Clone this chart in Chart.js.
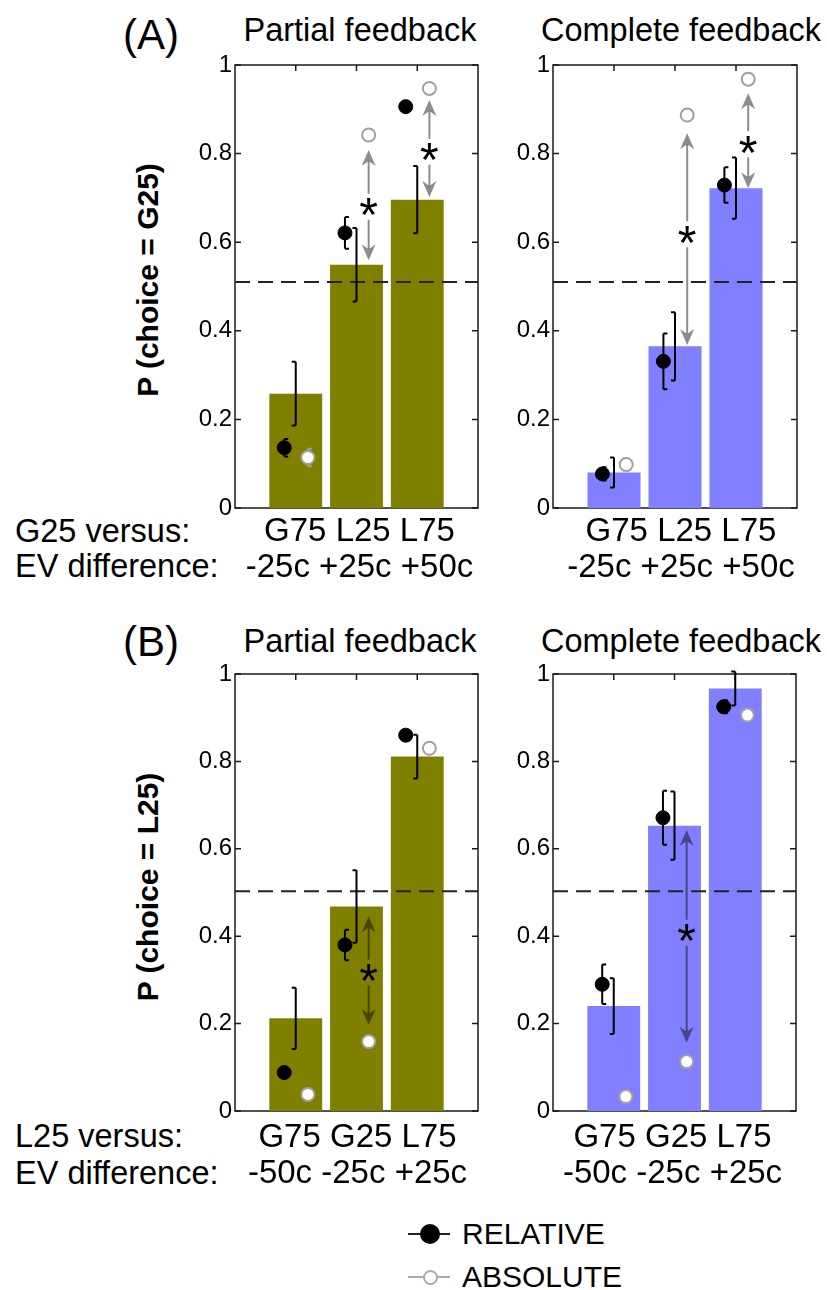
<!DOCTYPE html>
<html><head><meta charset="utf-8">
<script src="https://cdn.jsdelivr.net/npm/chart.js@4.4.1/dist/chart.umd.min.js"></script>
<style>
html,body{margin:0;padding:0;background:#fff;}
body{width:827px;height:1290px;position:relative;overflow:hidden;font-family:"Liberation Sans",Arial,Helvetica,sans-serif;color:#000;}
.lbl{position:absolute;white-space:nowrap;line-height:1;}
.ctr{transform:translateX(-50%);}
.ytitle{position:absolute;white-space:nowrap;line-height:1;font-size:30px;font-weight:bold;transform:translate(-50%,-50%) rotate(-90deg);}
.panel{position:absolute;}
.panel canvas{display:block;}
</style></head><body>

<div class="lbl" style="left:123px;top:14px;font-size:42px">(A)</div>
<div class="lbl ctr" style="left:360px;top:14px;font-size:32.5px">Partial feedback</div>
<div class="lbl ctr" style="left:681px;top:14px;font-size:32.5px">Complete feedback</div>
<div class="ytitle" style="left:148px;top:280px">P (choice = G25)</div>
<div class="lbl" style="left:15px;top:515px;font-size:32.5px">G25 versus:</div>
<div class="lbl" style="left:15px;top:550px;font-size:32.5px">EV difference:</div>

<div class="lbl" style="left:123px;top:621px;font-size:42px">(B)</div>
<div class="lbl ctr" style="left:360px;top:625px;font-size:32.5px">Partial feedback</div>
<div class="lbl ctr" style="left:681px;top:625px;font-size:32.5px">Complete feedback</div>
<div class="ytitle" style="left:148px;top:887px">P (choice = L25)</div>
<div class="lbl" style="left:15px;top:1120px;font-size:32.5px">L25 versus:</div>
<div class="lbl" style="left:15px;top:1157px;font-size:32.5px">EV difference:</div>

<div class="panel" style="left:170px;top:40px"><canvas id="aPartial" width="320" height="560" style="width:320px;height:560px"></canvas></div>
<div class="panel" style="left:490px;top:40px"><canvas id="aComplete" width="330" height="560" style="width:330px;height:560px"></canvas></div>
<div class="panel" style="left:170px;top:650px"><canvas id="bPartial" width="320" height="560" style="width:320px;height:560px"></canvas></div>
<div class="panel" style="left:490px;top:650px"><canvas id="bComplete" width="330" height="560" style="width:330px;height:560px"></canvas></div>

<!-- legend -->
<div style="position:absolute;left:408px;top:1233px;width:42px;height:2px;background:#222"></div>
<div style="position:absolute;left:420px;top:1224px;width:20px;height:20px;border-radius:50%;background:#000"></div>
<div class="lbl" style="left:462px;top:1219px;font-size:30px">RELATIVE</div>
<div style="position:absolute;left:408px;top:1276px;width:42px;height:2px;background:#aaa"></div>
<div style="position:absolute;left:423px;top:1270px;width:11px;height:11px;border-radius:50%;background:#fff;border:2px solid #aaa"></div>
<div class="lbl" style="left:462px;top:1262px;font-size:30px">ABSOLUTE</div>

<script>
// ---------- data ----------
const categoriesA = ['G75', 'L25', 'L75'];
const evDiffA = ['-25c', '+25c', '+50c'];
const categoriesB = ['G75', 'G25', 'L75'];
const evDiffB = ['-50c', '-25c', '+25c'];
const yTickValues = [0, 0.2, 0.4, 0.6, 0.8, 1];
const yTickLabels = ['0', '0.2', '0.4', '0.6', '0.8', '1'];
const chanceA = 0.51;
const chanceB = 0.503;

// (A) Partial feedback
const aPartialBars = [0.258, 0.549, 0.696];
const aPartialBarErr = [0.072, 0.083, 0.076];
const aPartialRelative = [0.136, 0.621, 0.906];
const aPartialRelativeErr = [0.02, 0.036, 0.01];
const aPartialAbsolute = [0.114, 0.842, 0.947];
const aPartialAbsoluteErr = [0.02, 0.01, 0.008];
const aPartialArrowTop = [null, 0.808, 0.921];
const aPartialArrowBottom = [null, 0.559, 0.702];
const aPartialStar = [null, 0.68, 0.804];

// (A) Complete feedback
const aCompleteBars = [0.080, 0.365, 0.722];
const aCompleteBarErr = [0.034, 0.077, 0.069];
const aCompleteRelative = [0.077, 0.331, 0.729];
const aCompleteRelativeErr = [0.015, 0.063, 0.04];
const aCompleteAbsolute = [0.098, 0.887, 0.968];
const aCompleteAbsoluteErr = [0.012, 0.012, 0.008];
const aCompleteArrowTop = [null, 0.846, 0.936];
const aCompleteArrowBottom = [null, 0.368, 0.722];
const aCompleteStar = [null, 0.618, 0.821];

// (B) Partial feedback
const bPartialBars = [0.212, 0.468, 0.811];
const bPartialBarErr = [0.07, 0.083, 0.05];
const bPartialRelative = [0.088, 0.380, 0.860];
const bPartialRelativeErr = [0.008, 0.035, 0.012];
const bPartialAbsolute = [0.038, 0.159, 0.830];
const bPartialAbsoluteErr = [0.008, 0.012, 0.012];
const bPartialArrowTop = [null, 0.445, null];
const bPartialArrowBottom = [null, 0.197, null];
const bPartialStar = [null, 0.317, null];

// (B) Complete feedback
const bCompleteBars = [0.240, 0.653, 0.967];
const bCompleteBarErr = [0.064, 0.078, 0.039];
const bCompleteRelative = [0.290, 0.671, 0.925];
const bCompleteRelativeErr = [0.045, 0.062, 0.015];
const bCompleteAbsolute = [0.033, 0.113, 0.906];
const bCompleteAbsoluteErr = [0.006, 0.014, 0.01];
const bCompleteArrowTop = [null, 0.643, null];
const bCompleteArrowBottom = [null, 0.156, null];
const bCompleteStar = [null, 0.408, null];

// ---------- style ----------
const FONT = '"Liberation Sans", Arial, Helvetica, sans-serif';
const OLIVE = '#808000';
const PERIWINKLE = '#8080ff';
const ARROW_COLOR = 'rgba(0,0,0,0.45)';
const REL_OFFSET = -0.19;
const ABS_OFFSET = 0.2;

Chart.defaults.font.family = FONT;
Chart.defaults.color = '#000';

const panels = {};

function drawPointErrors(chart, vals, errs, offset, color, capDir) {
  const ctx = chart.ctx, xs = chart.scales.x, ys = chart.scales.y;
  ctx.save();
  ctx.strokeStyle = color; ctx.lineWidth = 2;
  ctx.beginPath();
  vals.forEach((v, i) => {
    const e = errs[i];
    if (v == null || !e) return;
    const x = xs.getPixelForValue(i + 1 + offset);
    const y1 = ys.getPixelForValue(v + e), y2 = ys.getPixelForValue(v - e);
    ctx.moveTo(x, y1); ctx.lineTo(x, y2);
    ctx.moveTo(x, y1); ctx.lineTo(x + capDir * 4, y1);
    ctx.moveTo(x, y2); ctx.lineTo(x + capDir * 4, y2);
  });
  ctx.stroke();
  ctx.restore();
}

function arrowHead(ctx, x, yTip, s) {
  // s = +1 : points up (back below the tip); s = -1 : points down
  ctx.beginPath();
  ctx.moveTo(x, yTip);
  ctx.lineTo(x - 7, yTip + s * 16);
  ctx.lineTo(x, yTip + s * 11);
  ctx.lineTo(x + 7, yTip + s * 16);
  ctx.closePath();
  ctx.fill();
}

function drawArrows(chart, p) {
  const ctx = chart.ctx, xs = chart.scales.x, ys = chart.scales.y;
  ctx.save();
  p.arrowTop.forEach((top, i) => {
    if (top == null) return;
    const x = xs.getPixelForValue(i + 1 + ABS_OFFSET);
    const yT = ys.getPixelForValue(top);
    const yB = ys.getPixelForValue(p.arrowBottom[i]);
    const yS = ys.getPixelForValue(p.star[i]);
    const gap = 13;
    ctx.strokeStyle = ARROW_COLOR; ctx.fillStyle = ARROW_COLOR; ctx.lineWidth = 2;
    ctx.beginPath();
    ctx.moveTo(x, yS - gap); ctx.lineTo(x, yT + 11);
    ctx.moveTo(x, yS + gap); ctx.lineTo(x, yB - 11);
    ctx.stroke();
    arrowHead(ctx, x, yT, 1);
    arrowHead(ctx, x, yB, -1);
    // significance star
    ctx.fillStyle = '#000';
    ctx.font = '48px ' + FONT;
    ctx.textAlign = 'center';
    ctx.textBaseline = 'alphabetic';
    const m = ctx.measureText('*');
    ctx.fillText('*', x, yS + (m.actualBoundingBoxAscent - m.actualBoundingBoxDescent) / 2);
  });
  ctx.restore();
}

const extrasPlugin = {
  id: 'extras',
  beforeDatasetsDraw(chart) {
    const ctx = chart.ctx, ca = chart.chartArea, xs = chart.scales.x, ys = chart.scales.y;
    ctx.save();
    ctx.strokeStyle = '#1a1a1a'; ctx.lineWidth = 1.5;
    ctx.strokeRect(ca.left, ca.top, ca.right - ca.left, ca.bottom - ca.top);
    ctx.beginPath();
    ys.ticks.forEach(t => {
      const y = ys.getPixelForValue(t.value);
      ctx.moveTo(ca.left, y); ctx.lineTo(ca.left + 6, y);
      ctx.moveTo(ca.right, y); ctx.lineTo(ca.right - 6, y);
    });
    xs.ticks.forEach(t => {
      const x = xs.getPixelForValue(t.value);
      ctx.moveTo(x, ca.top); ctx.lineTo(x, ca.top + 6);
      ctx.moveTo(x, ca.bottom); ctx.lineTo(x, ca.bottom - 6);
    });
    ctx.stroke();
    ctx.restore();
  },
  afterDatasetDraw(chart, args) {
    const p = panels[chart.canvas.id];
    if (args.index === 2) {
      drawPointErrors(chart, p.bars, p.barErr, 0, '#000', -1);
      drawArrows(chart, p);
    }
  },
  beforeDatasetDraw(chart, args) {
    const p = panels[chart.canvas.id];
    if (args.index === 1) drawPointErrors(chart, p.rel, p.relErr, REL_OFFSET, '#000', 1);
    if (args.index === 0) drawPointErrors(chart, p.abs, p.absErr, ABS_OFFSET, '#a0a0a0', 1);
  }
};

function buildPanel(id, p) {
  panels[id] = p;
  new Chart(document.getElementById(id), {
    type: 'bar',
    data: {
      datasets: [
        { type: 'scatter', label: 'ABSOLUTE', order: 1,
          data: p.abs.map((v, i) => ({ x: i + 1 + ABS_OFFSET, y: v })),
          pointRadius: 6.5, pointBackgroundColor: '#fff', pointBorderColor: '#a0a0a0', pointBorderWidth: 2 },
        { type: 'scatter', label: 'RELATIVE', order: 2,
          data: p.rel.map((v, i) => ({ x: i + 1 + REL_OFFSET, y: v })),
          pointRadius: 7, pointBackgroundColor: '#000', pointBorderColor: '#000', pointBorderWidth: 1 },
        { type: 'line', label: 'chance', order: 3,
          data: [{ x: 0, y: p.chance }, { x: 4, y: p.chance }],
          borderColor: '#222', borderWidth: 2, borderDash: [15, 8], pointRadius: 0, fill: false },
        { type: 'bar', label: 'mean', order: 4,
          data: p.bars.map((v, i) => ({ x: i + 1, y: v })),
          backgroundColor: p.color, borderWidth: 0, barPercentage: 0.87, categoryPercentage: 1 }
      ]
    },
    options: {
      responsive: false,
      animation: false,
      events: [],
      layout: { padding: { top: p.padTop, right: p.padRight, bottom: p.padBottom, left: 0 } },
      plugins: { legend: { display: false }, tooltip: { enabled: false }, title: { display: false } },
      scales: {
        x: {
          type: 'linear', min: 0, max: 4, offset: false,
          grid: { display: false, drawTicks: false }, border: { display: false },
          afterBuildTicks: s => { s.ticks = p.cats.map((c, i) => ({ value: i + 1 })); },
          afterFit: s => { s.height = p.xAxisHeight; },
          ticks: {
            autoSkip: false, maxRotation: 0, minRotation: 0, padding: p.xPad, color: '#000',
            labelOffset: p.labelOffset,
            font: { family: FONT, size: 33, lineHeight: '36px' },
            // the category row and the EV row are each centred as one line under the panel
            callback: (v, i) => (i === 1 ? [p.cats.join(' '), p.ev.join(' ')] : '')
          }
        },
        y: {
          type: 'linear', min: 0, max: 1,
          grid: { display: false, drawTicks: false }, border: { display: false },
          afterBuildTicks: s => { s.ticks = yTickValues.map(v => ({ value: v })); },
          afterFit: s => { s.width = p.yAxisWidth; },
          ticks: {
            padding: 3, color: '#000', font: { family: FONT, size: 24 },
            callback: (v, i) => yTickLabels[i]
          }
        }
      }
    },
    plugins: [extrasPlugin]
  });
}

buildPanel('aPartial', {
  cats: categoriesA, ev: evDiffA, color: OLIVE, chance: chanceA,
  bars: aPartialBars, barErr: aPartialBarErr, rel: aPartialRelative, relErr: aPartialRelativeErr,
  abs: aPartialAbsolute, absErr: aPartialAbsoluteErr,
  arrowTop: aPartialArrowTop, arrowBottom: aPartialArrowBottom, star: aPartialStar,
  padTop: 25, padRight: 12, padBottom: 12, xAxisHeight: 80, yAxisWidth: 65, xPad: 6, labelOffset: 3
});
buildPanel('aComplete', {
  cats: categoriesA, ev: evDiffA, color: PERIWINKLE, chance: chanceA,
  bars: aCompleteBars, barErr: aCompleteBarErr, rel: aCompleteRelative, relErr: aCompleteRelativeErr,
  abs: aCompleteAbsolute, absErr: aCompleteAbsoluteErr,
  arrowTop: aCompleteArrowTop, arrowBottom: aCompleteArrowBottom, star: aCompleteStar,
  padTop: 25, padRight: 23, padBottom: 12, xAxisHeight: 80, yAxisWidth: 63, xPad: 6, labelOffset: 6
});
buildPanel('bPartial', {
  cats: categoriesB, ev: evDiffB, color: OLIVE, chance: chanceB,
  bars: bPartialBars, barErr: bPartialBarErr, rel: bPartialRelative, relErr: bPartialRelativeErr,
  abs: bPartialAbsolute, absErr: bPartialAbsoluteErr,
  arrowTop: bPartialArrowTop, arrowBottom: bPartialArrowBottom, star: bPartialStar,
  padTop: 24, padRight: 12, padBottom: 14, xAxisHeight: 85, yAxisWidth: 65, xPad: 9, labelOffset: 1
});
buildPanel('bComplete', {
  cats: categoriesB, ev: evDiffB, color: PERIWINKLE, chance: chanceB,
  bars: bCompleteBars, barErr: bCompleteBarErr, rel: bCompleteRelative, relErr: bCompleteRelativeErr,
  abs: bCompleteAbsolute, absErr: bCompleteAbsoluteErr,
  arrowTop: bCompleteArrowTop, arrowBottom: bCompleteArrowBottom, star: bCompleteStar,
  padTop: 24, padRight: 24, padBottom: 14, xAxisHeight: 85, yAxisWidth: 63, xPad: 9, labelOffset: -2
});
</script>
</body></html>
